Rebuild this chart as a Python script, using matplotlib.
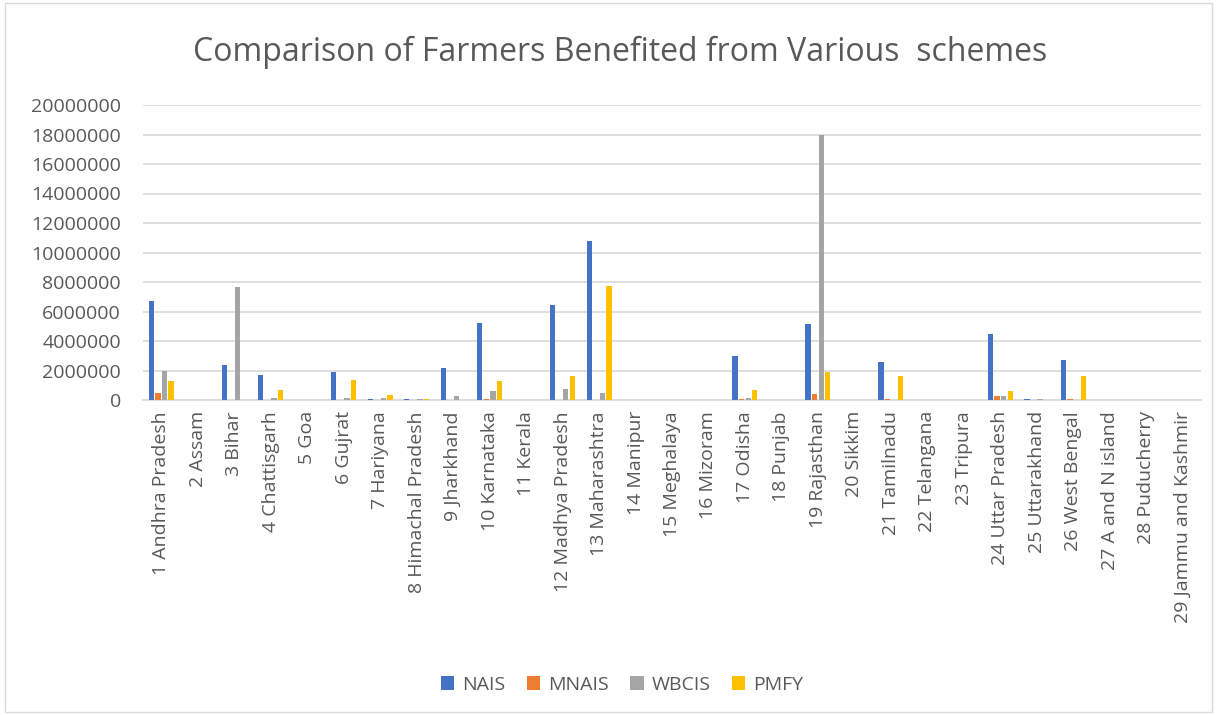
import numpy as np
import matplotlib.pyplot as plt

states = ["1 Andhra Pradesh", "2 Assam", "3 Bihar", "4 Chattisgarh", "5 Goa",
          "6 Gujrat", "7 Hariyana", "8 Himachal Pradesh", "9 Jharkhand",
          "10 Karnataka", "11 Kerala", "12 Madhya Pradesh", "13 Maharashtra",
          "14 Manipur", "15 Meghalaya", "16 Mizoram", "17 Odisha", "18 Punjab",
          "19 Rajasthan", "20 Sikkim", "21 Tamilnadu", "22 Telangana",
          "23 Tripura", "24 Uttar Pradesh", "25 Uttarakhand", "26 West Bengal",
          "27 A and N island", "28 Puducherry", "29 Jammu and Kashmir"]

nais = [6700000, 20000, 2400000, 1700000, 5000, 1900000, 100000, 80000, 2150000,
        5200000, 30000, 6450000, 10750000, 0, 0, 0, 3000000, 0,
        5150000, 0, 2550000, 0, 0, 4500000, 100000, 2700000, 0, 0, 0]
mnais = [500000, 0, 10000, 0, 0, 0, 0, 20000, 0,
         100000, 10000, 0, 0, 0, 0, 0, 100000, 0,
         400000, 0, 50000, 0, 0, 250000, 0, 50000, 0, 0, 0]
wbcis = [2000000, 0, 7650000, 150000, 0, 150000, 150000, 60000, 300000,
         600000, 10000, 750000, 450000, 0, 0, 0, 150000, 0,
         18000000, 0, 30000, 0, 0, 300000, 100000, 0, 0, 0, 0]
pmfy = [1300000, 0, 0, 650000, 0, 1350000, 350000, 70000, 20000,
        1300000, 0, 1600000, 7700000, 0, 0, 0, 650000, 0,
        1900000, 0, 1650000, 10000, 0, 600000, 30000, 1650000, 0, 0, 0]

series = [("NAIS", nais, "#4472C4"), ("MNAIS", mnais, "#ED7D31"),
          ("WBCIS", wbcis, "#A5A5A5"), ("PMFY", pmfy, "#FFC000")]

plt.rcParams['font.family'] = ['Open Sans', 'DejaVu Sans']
txt = "#595959"

fig = plt.figure(figsize=(12.17, 7.15), dpi=100)
ax = fig.add_axes([143 / 1217, 1 - 400 / 715, 1058 / 1217, 295 / 715])

x = np.arange(len(states))
w = 0.145
step = 0.18
for k, (name, vals, col) in enumerate(series):
    ax.bar(x + (k - 1.5) * step, vals, width=w, color=col, label=name, zorder=3)

ax.set_xlim(-0.5, len(states) - 0.5)
ax.set_ylim(0, 20000000)
ax.set_yticks(np.arange(0, 20000001, 2000000))
ax.set_yticklabels([str(v) for v in range(0, 20000001, 2000000)])
ax.set_xticks(x)
ax.set_xticklabels(states, rotation=90)
ax.tick_params(axis='both', length=0, labelsize=14, colors=txt)
ax.tick_params(axis='x', pad=8)
ax.tick_params(axis='y', pad=16)
ax.grid(axis='y', color="#D9D9D9", linewidth=1.2, zorder=0)
for s in ["top", "right", "left"]:
    ax.spines[s].set_visible(False)
ax.spines["bottom"].set_color("#D9D9D9")
ax.spines["bottom"].set_linewidth(1.2)

fig.text(620 / 1217, 1 - 52 / 715, "Comparison of Farmers Benefited from Various  schemes",
         ha="center", va="center", fontsize=23, color=txt)

handles, labels = ax.get_legend_handles_labels()
fig.legend(handles, labels, loc="center", bbox_to_anchor=(622 / 1217, 1 - 685 / 715),
           ncol=4, frameon=False, fontsize=14, labelcolor=txt,
           handlelength=0.7, handleheight=0.7, columnspacing=1.1, handletextpad=0.4)

fig.patches.append(plt.Rectangle((0.004, 0.004), 0.992, 0.992, transform=fig.transFigure,
                                 fill=False, edgecolor="#D9D9D9", linewidth=1))

fig.savefig("out.png", dpi=100)
